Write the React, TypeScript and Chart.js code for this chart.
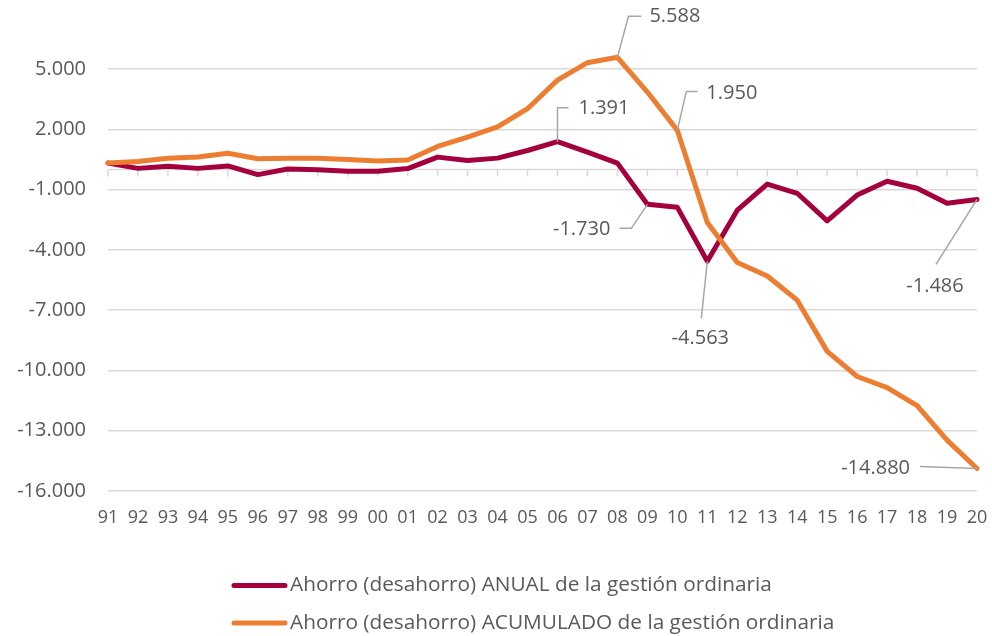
import React, { useEffect, useRef } from "react";
import { Chart, registerables } from "chart.js";

Chart.register(...registerables);

const years = ["91", "92", "93", "94", "95", "96", "97", "98", "99", "00", "01", "02", "03", "04", "05", "06", "07", "08", "09", "10", "11", "12", "13", "14", "15", "16", "17", "18", "19", "20"];

const anual = [330, 60, 165, 60, 180, -250, 30, -10, -80, -80, 50, 620, 450, 570, 950, 1391, 870, 320, -1730, -1880, -4563, -2020, -720, -1180, -2550, -1270, -580, -930, -1680, -1486];

const acumulado = [330, 400, 565, 630, 815, 535, 565, 560, 500, 430, 480, 1150, 1620, 2120, 3030, 4450, 5320, 5588, 3858, 1950, -2630, -4630, -5300, -6500, -9050, -10300, -10850, -11750, -13470, -14880];

const yTicks = [5000, 2000, -1000, -4000, -7000, -10000, -13000, -16000];

const seriesNames = [
  "Ahorro (desahorro) ANUAL de la gestión ordinaria",
  "Ahorro (desahorro) ACUMULADO de la gestión ordinaria",
];

const COLORS = ["#A5003E", "#ED7D31"];
const FONT = "'Open Sans', 'DejaVu Sans', sans-serif";
const TEXT = "#595959";
const GRID = "#D9D9D9";
const LEADER = "#A6A6A6";

// labelled points: dataset index, data index, leader path and text offset (layout only)
const callouts = [
  { ds: 1, i: 17, path: [[0, 0], [11, -41], [24, -41]], tx: 32, ty: -41, align: "left" },
  { ds: 1, i: 19, path: [[0, 0], [9, -39], [20, -39]], tx: 29, ty: -37, align: "left" },
  { ds: 0, i: 15, path: [[0, 0], [0, -34], [11, -34]], tx: 21, ty: -33, align: "left" },
  { ds: 0, i: 18, path: [[0, 0], [-16, 24], [-28, 24]], tx: -37, ty: 25, align: "right" },
  { ds: 0, i: 20, path: [[0, 0], [-6, 57]], tx: -7, ty: 77, align: "center" },
  { ds: 0, i: 29, path: [[0, 0], [-41, 65]], tx: -42, ty: 87, align: "center" },
  { ds: 1, i: 29, path: [[0, 0], [-57, -2]], tx: -67, ty: 0, align: "right" },
];

function fmt(v: number): string {
  const s = Math.abs(Math.round(v)).toString().replace(/\B(?=(\d{3})+(?!\d))/g, ".");
  return (v < 0 ? "-" : "") + s;
}

const zeroLinePlugin = {
  id: "zeroLine",
  beforeDatasetsDraw(chart: any) {
    const { ctx, scales } = chart;
    const x = scales.x;
    const y0 = scales.y.getPixelForValue(0);
    ctx.save();
    ctx.strokeStyle = GRID;
    ctx.lineWidth = 1.5;
    ctx.beginPath();
    ctx.moveTo(x.left, y0);
    ctx.lineTo(x.right, y0);
    for (let i = 0; i < years.length; i++) {
      const px = x.getPixelForValue(i);
      ctx.moveTo(px, y0);
      ctx.lineTo(px, y0 + 7);
    }
    ctx.stroke();
    ctx.restore();
  },
};

const calloutPlugin = {
  id: "callouts",
  afterDatasetsDraw(chart: any) {
    const { ctx } = chart;
    ctx.save();
    for (const c of callouts) {
      const meta = chart.getDatasetMeta(c.ds);
      const el = meta.data[c.i];
      const px = el.x;
      const py = el.y;
      ctx.strokeStyle = LEADER;
      ctx.lineWidth = 1.5;
      ctx.beginPath();
      c.path.forEach((p, k) => {
        if (k === 0) ctx.moveTo(px + p[0], py + p[1]);
        else ctx.lineTo(px + p[0], py + p[1]);
      });
      ctx.stroke();
      const v = chart.data.datasets[c.ds].data[c.i];
      ctx.fillStyle = TEXT;
      ctx.font = `20px ${FONT}`;
      ctx.textAlign = c.align;
      ctx.textBaseline = "middle";
      ctx.fillText(fmt(v), px + c.tx, py + c.ty);
    }
    ctx.restore();
  },
};

const legendPlugin = {
  id: "customLegend",
  afterDraw(chart: any) {
    const { ctx } = chart;
    const rows = [585.5, 623];
    ctx.save();
    chart.data.datasets.forEach((ds: any, k: number) => {
      const y = rows[k];
      ctx.strokeStyle = ds.borderColor;
      ctx.lineWidth = 5;
      ctx.lineCap = "round";
      ctx.beginPath();
      ctx.moveTo(234, y);
      ctx.lineTo(285, y);
      ctx.stroke();
      ctx.fillStyle = TEXT;
      ctx.font = `20.8px ${FONT}`;
      ctx.textAlign = "left";
      ctx.textBaseline = "middle";
      ctx.fillText(ds.label, 290, y);
    });
    ctx.restore();
  },
};

export default function App() {
  const ref = useRef<HTMLCanvasElement | null>(null);

  useEffect(() => {
    if (!ref.current) return;
    const chart = new Chart(ref.current, {
      type: "line",
      data: {
        labels: years,
        datasets: [
          {
            label: seriesNames[0],
            data: anual,
            borderColor: COLORS[0],
            backgroundColor: COLORS[0],
            borderWidth: 5,
            pointRadius: 0,
            borderJoinStyle: "round",
            borderCapStyle: "round",
            tension: 0,
            order: 1,
            clip: false,
          },
          {
            label: seriesNames[1],
            data: acumulado,
            borderColor: COLORS[1],
            backgroundColor: COLORS[1],
            borderWidth: 5,
            pointRadius: 0,
            borderJoinStyle: "round",
            borderCapStyle: "round",
            tension: 0,
            order: 0,
            clip: false,
          },
        ],
      },
      options: {
        animation: false,
        responsive: false,
        maintainAspectRatio: false,
        layout: { padding: { top: 39, right: 15, left: 0, bottom: 0 } },
        plugins: {
          legend: { display: false },
          tooltip: { enabled: false },
          title: { display: false },
        },
        scales: {
          x: {
            type: "category",
            offset: false,
            grid: { display: false, drawTicks: false },
            border: { display: false },
            ticks: {
              color: TEXT,
              font: { family: FONT, size: 18 },
              padding: 16,
              maxRotation: 0,
              autoSkip: false,
            },
            afterFit: (axis: any) => {
              axis.height = 145;
              axis.paddingLeft = 0;
              axis.paddingRight = 0;
            },
          },
          y: {
            min: -16000,
            max: 6500,
            afterBuildTicks: (axis: any) => {
              axis.ticks = yTicks.map((v) => ({ value: v }));
            },
            afterFit: (axis: any) => {
              axis.width = 108;
              axis.paddingTop = 0;
              axis.paddingBottom = 0;
            },
            grid: { color: GRID, lineWidth: 1.5, drawTicks: false },
            border: { display: false },
            ticks: {
              color: TEXT,
              font: { family: FONT, size: 20 },
              padding: 22,
              callback: (v: any) => fmt(Number(v)),
            },
          },
        },
      },
      plugins: [zeroLinePlugin, calloutPlugin, legendPlugin],
    });
    return () => chart.destroy();
  }, []);

  return (
    <div style={{ position: "fixed", left: 0, top: 0, width: 992, height: 636, background: "#fff" }}>
      <canvas ref={ref} width={992} height={636} style={{ display: "block", width: 992, height: 636 }} />
    </div>
  );
}
